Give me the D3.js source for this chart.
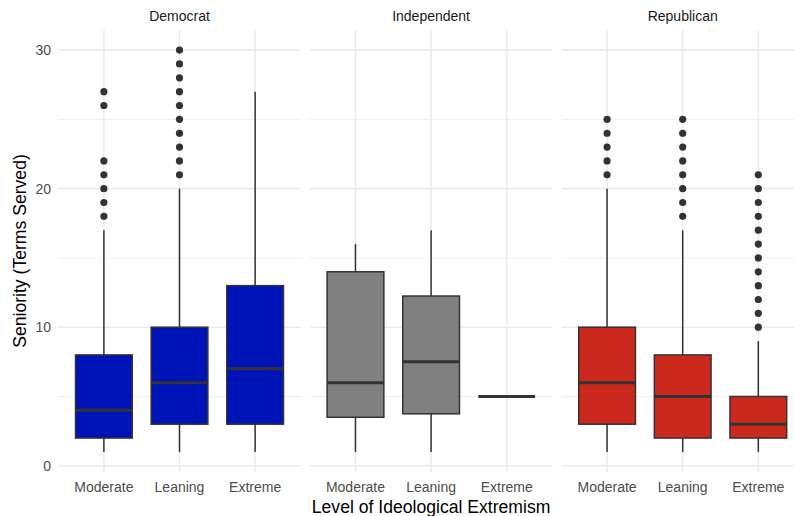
<!DOCTYPE html>
<html><head><meta charset="utf-8">
<script src="https://cdn.jsdelivr.net/npm/d3@7"></script>
<style>body{margin:0;background:#fff}svg{display:block}text{font-family:"Liberation Sans",Arial,sans-serif}</style>
</head><body>
<script>
// ---- data ----
const parties = ["Democrat", "Independent", "Republican"];
const levels = ["Moderate", "Leaning", "Extreme"];
const fills = ["#0013B6", "#808080", "#CB291D"];
// [whiskerLow, q1, median, q3, whiskerHigh] per party, per level
const demStats = [[1,2,4,8,17],[1,3,6,10,20],[1,3,7,13,27]];
const indStats = [[1,3.5,6,14,16],[1,3.75,7.5,12.25,17],[5,5,5,5,5]];
const repStats = [[1,3,6,10,20],[1,2,5,8,17],[1,2,3,5,9]];
const demOutliers = [[18,19,20,21,22,26,27],[21,22,23,24,25,26,27,28,29,30],[]];
const indOutliers = [[],[],[]];
const repOutliers = [[21,22,23,24,25],[18,19,20,21,22,23,24,25],[10,11,12,13,14,15,16,17,18,19,20,21]];
const yTicks = [0,10,20,30];
const yMinor = [5,15,25];

const stats = [demStats, indStats, repStats];
const outs = [demOutliers, indOutliers, repOutliers];

const W = 794, H = 516;
const svg = d3.select("body").append("svg").attr("width", W).attr("height", H);

const panelTop = 30, panelBottom = 472;
const panelW = 242, panelGap = 9.6, panelLeft0 = 58.5;
const y = d3.scaleLinear().domain([-0.45, 31.45]).range([panelBottom, panelTop]);

parties.forEach((p, pi) => {
  const left = panelLeft0 + pi * (panelW + panelGap);
  // ggplot discrete: expand 0.6 units each side -> step = W/3.2
  const x = d3.scalePoint().domain(levels).range([left + panelW * 0.6 / 3.2, left + panelW * 2.6 / 3.2]);
  const step = panelW / 3.2;
  const cx = l => x(l);
  const g = svg.append("g");
  // grid
  g.selectAll(".mnr").data(yMinor).join("line")
    .attr("x1", left).attr("x2", left + panelW)
    .attr("y1", d => y(d)).attr("y2", d => y(d))
    .attr("stroke", "#ebebeb").attr("stroke-width", 0.8);
  g.selectAll(".mjr").data(yTicks).join("line")
    .attr("x1", left).attr("x2", left + panelW)
    .attr("y1", d => y(d)).attr("y2", d => y(d))
    .attr("stroke", "#ebebeb").attr("stroke-width", 1.6);
  g.selectAll(".vg").data(levels).join("line")
    .attr("x1", d => cx(d)).attr("x2", d => cx(d))
    .attr("y1", panelTop).attr("y2", panelBottom)
    .attr("stroke", "#ebebeb").attr("stroke-width", 1.6);
  // strip
  g.append("text").attr("x", left + panelW / 2).attr("y", 21)
    .attr("text-anchor", "middle").attr("font-size", 14).attr("fill", "#1a1a1a").text(p);
  // x tick labels
  g.selectAll(".xl").data(levels).join("text")
    .attr("x", d => cx(d)).attr("y", 492)
    .attr("text-anchor", "middle").attr("font-size", 14).attr("fill", "#4d4d4d").text(d => d);
  // boxes
  const bw = step * 0.75;
  levels.forEach((l, li) => {
    const s = stats[pi][li];
    const c = cx(l);
    g.append("line").attr("x1", c).attr("x2", c).attr("y1", y(s[0])).attr("y2", y(s[1]))
      .attr("stroke", "#333333").attr("stroke-width", 1.5);
    g.append("line").attr("x1", c).attr("x2", c).attr("y1", y(s[3])).attr("y2", y(s[4]))
      .attr("stroke", "#333333").attr("stroke-width", 1.5);
    g.append("rect").attr("x", c - bw / 2).attr("width", bw)
      .attr("y", y(s[3])).attr("height", Math.max(0, y(s[1]) - y(s[3])))
      .attr("fill", fills[pi]).attr("stroke", "#333333").attr("stroke-width", 1.5);
    g.append("line").attr("x1", c - bw / 2).attr("x2", c + bw / 2).attr("y1", y(s[2])).attr("y2", y(s[2]))
      .attr("stroke", "#333333").attr("stroke-width", 3);
    g.selectAll(null).data(outs[pi][li]).join("circle")
      .attr("cx", c).attr("cy", d => y(d)).attr("r", 3.6).attr("fill", "#333333");
  });
});

// y tick labels
svg.selectAll(".yl").data(yTicks).join("text")
  .attr("x", 51).attr("y", d => y(d)).attr("dy", "0.35em")
  .attr("text-anchor", "end").attr("font-size", 14).attr("fill", "#4d4d4d").text(d => d);

// axis titles
svg.append("text").attr("x", panelLeft0 + (3 * panelW + 2 * panelGap) / 2).attr("y", 513)
  .attr("text-anchor", "middle").attr("font-size", 17.6).attr("fill", "#000").text("Level of Ideological Extremism");
svg.append("text").attr("transform", `translate(26,${(panelTop + panelBottom) / 2}) rotate(-90)`)
  .attr("text-anchor", "middle").attr("font-size", 17.6).attr("fill", "#000").text("Seniority (Terms Served)");
</script>
</body></html>
